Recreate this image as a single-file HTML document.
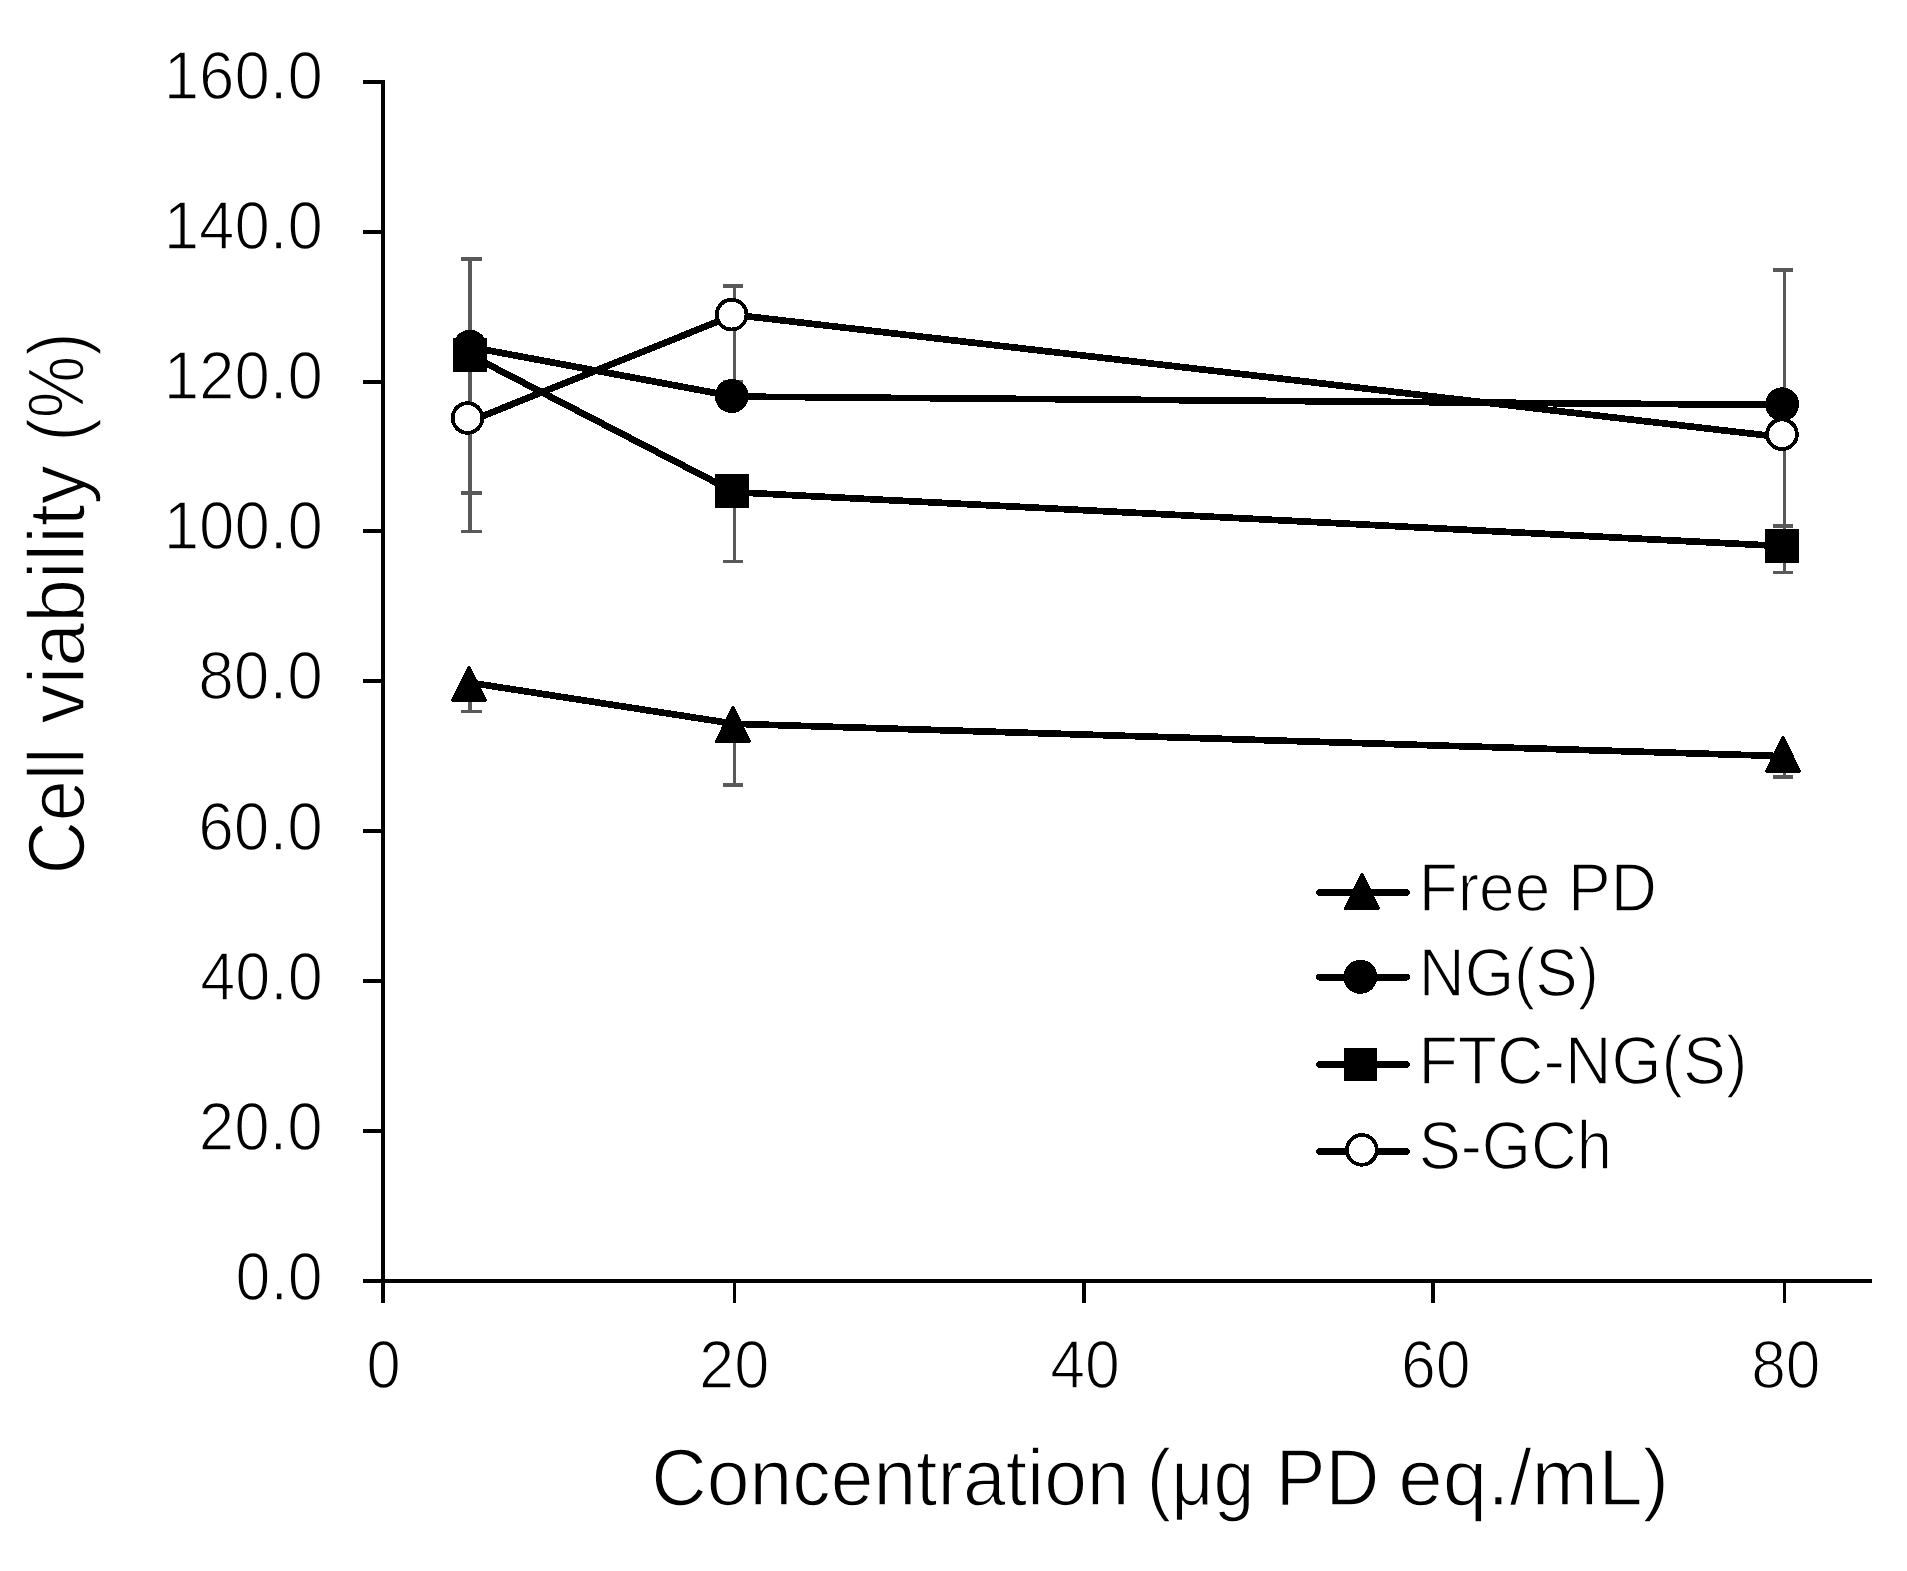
<!DOCTYPE html>
<html lang="en"><head><meta charset="utf-8"><title>Cell viability vs concentration</title>
<style>html,body{margin:0;padding:0;background:#fff}svg{display:block}text{font-family:"Liberation Sans", "Noto Sans CJK JP", sans-serif;fill:#000;stroke:#fff;stroke-width:1.5px;stroke-linejoin:round}</style>
</head><body>
<svg width="1907" height="1571" viewBox="0 0 1907 1571">
<rect x="0" y="0" width="1907" height="1571" fill="#fff"/>
<g fill="#000" shape-rendering="crispEdges">
<rect x="381" y="80" width="4" height="1223"/>
<rect x="363" y="1279" width="1509" height="4"/>
<rect x="363" y="80" width="20" height="4"/>
<rect x="363" y="230" width="20" height="4"/>
<rect x="363" y="380" width="20" height="4"/>
<rect x="363" y="529" width="20" height="4"/>
<rect x="363" y="679" width="20" height="4"/>
<rect x="363" y="829" width="20" height="4"/>
<rect x="363" y="979" width="20" height="4"/>
<rect x="363" y="1129" width="20" height="4"/>
<rect x="733" y="1281" width="3" height="22"/>
<rect x="1082" y="1281" width="4" height="22"/>
<rect x="1431" y="1281" width="4" height="22"/>
<rect x="1783" y="1281" width="3" height="22"/>
</g>
<g fill="#595959" shape-rendering="crispEdges">
<rect x="468" y="257" width="4" height="276"/>
<rect x="461" y="257" width="21" height="4"/>
<rect x="461" y="491" width="21" height="4"/>
<rect x="461" y="530" width="21" height="3"/>
<rect x="468" y="690" width="4" height="23"/>
<rect x="461" y="710" width="21" height="3"/>
<rect x="733" y="284" width="3" height="98"/>
<rect x="723" y="284" width="20" height="4"/>
<rect x="723" y="380" width="20" height="3"/>
<rect x="733" y="500" width="3" height="63"/>
<rect x="723" y="560" width="20" height="3"/>
<rect x="733" y="735" width="3" height="52"/>
<rect x="723" y="783" width="20" height="4"/>
<rect x="1783" y="268" width="3" height="306"/>
<rect x="1773" y="268" width="20" height="4"/>
<rect x="1773" y="524" width="20" height="4"/>
<rect x="1773" y="571" width="20" height="3"/>
<rect x="1783" y="765" width="3" height="14"/>
<rect x="1773" y="775" width="20" height="4"/>
</g>
<g fill="none" stroke="#000" stroke-width="6.7" stroke-linejoin="round" stroke-linecap="butt" shape-rendering="crispEdges">
<polyline points="470,682.7 734.5,723.8 1784.5,756.2"/>
<polyline points="470,347 734.5,396.6 1784.5,405"/>
<polyline points="470,355 734.5,492.2 1784.5,546.2"/>
<polyline points="470,421.2 734.5,314.8 1784.5,437.5"/>
</g>
<g shape-rendering="crispEdges">
<polygon points="469,667.4 485.6,700.3 452.4,700.3" fill="#000" stroke="#000" stroke-width="3" stroke-linejoin="round"/>
<polygon points="733,707.3 749.6,741.4 716.4,741.4" fill="#000" stroke="#000" stroke-width="3" stroke-linejoin="round"/>
<polygon points="1783,737.4 1799.6,771.3 1766.4,771.3" fill="#000" stroke="#000" stroke-width="3" stroke-linejoin="round"/>
<circle cx="470" cy="346.8" r="17" fill="#000"/>
<circle cx="731.7" cy="396" r="17" fill="#000"/>
<circle cx="1782.1" cy="404.3" r="17" fill="#000"/>
<rect x="453" y="338" width="34" height="34" fill="#000"/>
<rect x="715" y="474.4" width="34" height="34" fill="#000"/>
<rect x="1765" y="528.9" width="34" height="34" fill="#000"/>
<circle cx="467.5" cy="418" r="14.85" fill="#fff" stroke="#000" stroke-width="3.8"/>
<circle cx="731.6" cy="314.6" r="14.85" fill="#fff" stroke="#000" stroke-width="3.8"/>
<circle cx="1782" cy="434.3" r="14.85" fill="#fff" stroke="#000" stroke-width="3.8"/>
</g>
<g shape-rendering="crispEdges">
<line x1="1319.4" y1="892.5" x2="1406.6" y2="892.5" stroke="#000" stroke-width="6.8" stroke-linecap="round"/>
<line x1="1319.4" y1="977.1" x2="1406.6" y2="977.1" stroke="#000" stroke-width="6.8" stroke-linecap="round"/>
<line x1="1319.4" y1="1064.5" x2="1406.6" y2="1064.5" stroke="#000" stroke-width="6.8" stroke-linecap="round"/>
<line x1="1319.4" y1="1151.5" x2="1406.6" y2="1151.5" stroke="#000" stroke-width="6.8" stroke-linecap="round"/>
<polygon points="1362,874.4 1378.6,908.4 1345.4,908.4" fill="#000" stroke="#000" stroke-width="3" stroke-linejoin="round"/>
<circle cx="1360.4" cy="976.8" r="17" fill="#000"/>
<rect x="1343.75" y="1047.55" width="33.3" height="33.3" fill="#000"/>
<circle cx="1361.85" cy="1149.9" r="14.85" fill="#fff" stroke="#000" stroke-width="3.8"/>
</g>
<text id="yl0" x="163.63" y="98.6" font-size="67.6" textLength="159.2" lengthAdjust="spacingAndGlyphs" text-anchor="start">160.0</text>
<text id="yl1" x="163.63" y="248.79" font-size="67.6" textLength="159.2" lengthAdjust="spacingAndGlyphs" text-anchor="start">140.0</text>
<text id="yl2" x="163.63" y="398.98" font-size="67.6" textLength="159.2" lengthAdjust="spacingAndGlyphs" text-anchor="start">120.0</text>
<text id="yl3" x="163.63" y="549.17" font-size="67.6" textLength="159.2" lengthAdjust="spacingAndGlyphs" text-anchor="start">100.0</text>
<text id="yl4" x="198.19" y="699.36" font-size="67.6" textLength="124.62" lengthAdjust="spacingAndGlyphs" text-anchor="start">80.0</text>
<text id="yl5" x="198.18" y="849.55" font-size="67.6" textLength="124.62" lengthAdjust="spacingAndGlyphs" text-anchor="start">60.0</text>
<text id="yl6" x="200.14" y="999.74" font-size="67.6" textLength="122.56" lengthAdjust="spacingAndGlyphs" text-anchor="start">40.0</text>
<text id="yl7" x="198.76" y="1149.93" font-size="67.6" textLength="124" lengthAdjust="spacingAndGlyphs" text-anchor="start">20.0</text>
<text id="yl8" x="235.6" y="1300.12" font-size="67.6" textLength="87.11" lengthAdjust="spacingAndGlyphs" text-anchor="start">0.0</text>
<text id="xl0" x="366.59" y="1387.7" font-size="67.6" textLength="34.17" lengthAdjust="spacingAndGlyphs" text-anchor="start">0</text>
<text id="xl1" x="699.11" y="1387.7" font-size="67.6" textLength="70.35" lengthAdjust="spacingAndGlyphs" text-anchor="start">20</text>
<text id="xl2" x="1050.28" y="1387.7" font-size="67.6" textLength="69.7" lengthAdjust="spacingAndGlyphs" text-anchor="start">40</text>
<text id="xl3" x="1401.07" y="1387.7" font-size="67.6" textLength="69.61" lengthAdjust="spacingAndGlyphs" text-anchor="start">60</text>
<text id="xl4" x="1751.21" y="1387.7" font-size="67.6" textLength="69.25" lengthAdjust="spacingAndGlyphs" text-anchor="start">80</text>
<text id="lg0" x="1418.67" y="910.5" font-size="67.6" textLength="238.4" lengthAdjust="spacingAndGlyphs" text-anchor="start">Free PD</text>
<text id="lg1" x="1418.73" y="996.4" font-size="67.6" textLength="180.19" lengthAdjust="spacingAndGlyphs" text-anchor="start">NG(S)</text>
<text id="lg2" x="1418.49" y="1083.8" font-size="67.6" textLength="328.88" lengthAdjust="spacingAndGlyphs" text-anchor="start">FTC-NG(S)</text>
<text id="lg3" x="1418.67" y="1169.4" font-size="67.6" textLength="193.19" lengthAdjust="spacingAndGlyphs" text-anchor="start">S-GCh</text>
<text id="xt" y="1505" font-size="80"><tspan id="xt0" x="651.35" textLength="478.25" lengthAdjust="spacingAndGlyphs">Concentration</tspan> <tspan id="xt1" x="1146.82" textLength="107.59" lengthAdjust="spacingAndGlyphs">(μg</tspan> <tspan id="xt2" x="1275.83" textLength="103.54" lengthAdjust="spacingAndGlyphs">PD</tspan> <tspan id="xt3" x="1398.29" textLength="270.95" lengthAdjust="spacingAndGlyphs">eq./mL)</tspan></text>
<text id="yt" transform="translate(83.6,0) rotate(-90)" font-size="79"><tspan id="yt0" x="-874.27" textLength="126.68" lengthAdjust="spacingAndGlyphs">Cell</tspan> <tspan id="yt1" x="-723.78" textLength="258.85" lengthAdjust="spacingAndGlyphs">viability</tspan> <tspan id="yt2" x="-441.49" textLength="109.02" lengthAdjust="spacingAndGlyphs">(%)</tspan></text>
</svg>
</body></html>
